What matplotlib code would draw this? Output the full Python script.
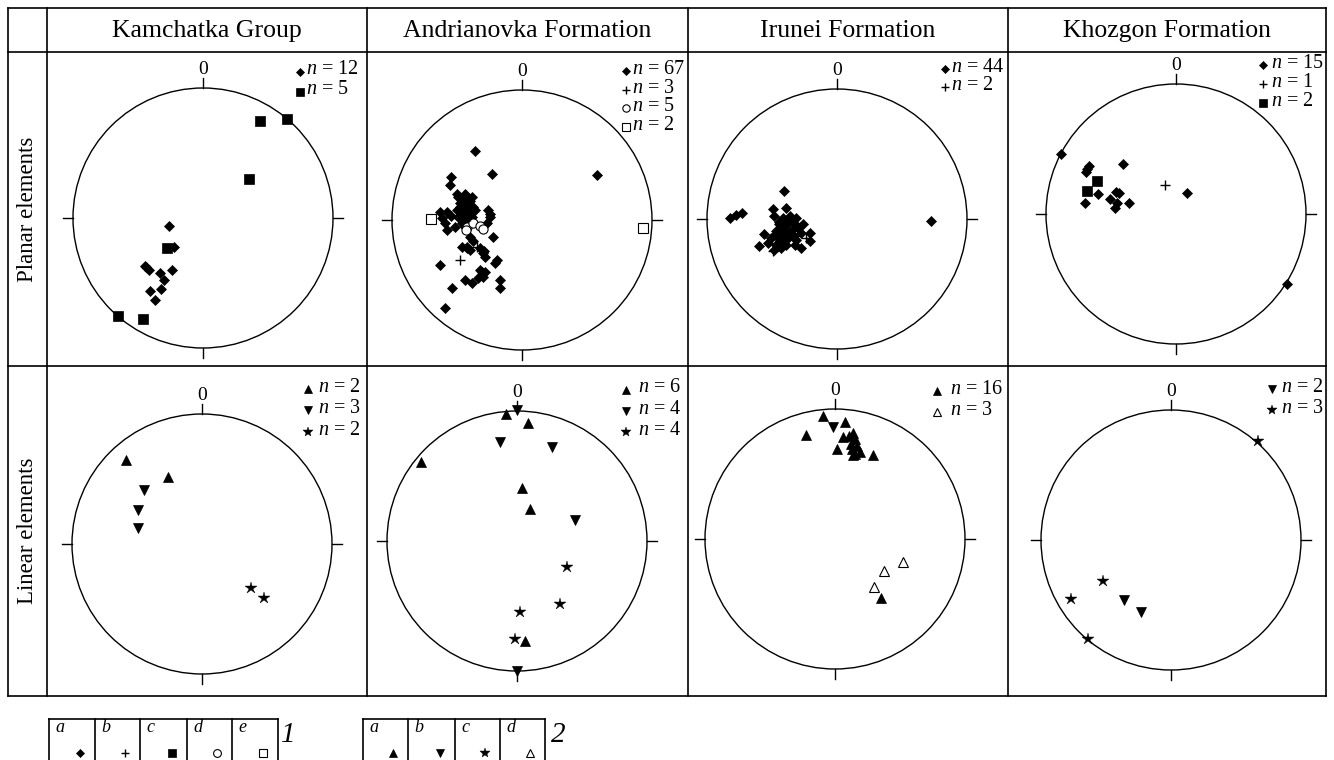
import matplotlib
matplotlib.use('Agg')
import matplotlib.pyplot as plt
from matplotlib.patches import Circle

plt.rcParams['font.family'] = ['Liberation Serif', 'DejaVu Serif']
plt.rcParams['mathtext.fontset'] = 'custom'
plt.rcParams['mathtext.rm'] = 'Liberation Serif'
plt.rcParams['mathtext.it'] = 'Liberation Serif:italic'

W, H = 1334, 760

columns = ["Kamchatka Group", "Andrianovka Formation", "Irunei Formation", "Khozgon Formation"]
rows = ["Planar elements", "Linear elements"]

# ---------------- data: projected positions (unit circle) ----------------
kam_pl_diamond = [(-0.262, -0.063), (-0.224, -0.222), (-0.450, -0.369), (-0.416, -0.397),
                  (-0.329, -0.423), (-0.237, -0.397), (-0.303, -0.479), (-0.324, -0.544),
                  (-0.404, -0.562), (-0.373, -0.629), (-0.435, -0.380)]
kam_pl_square = [(0.437, 0.749), (0.643, 0.765), (0.355, 0.300), (-0.650, -0.757),
                 (-0.463, -0.778), (-0.280, -0.228)]

and_pl_diamond = [(-0.362, 0.531), (-0.233, 0.351), (0.579, 0.344), (-0.549, 0.333), (-0.554, 0.269),
                  (-0.490, 0.179), (-0.438, 0.200), (-0.387, 0.179), (-0.477, 0.128), (-0.413, 0.128),
                  (-0.374, 0.103), (-0.503, 0.077), (-0.451, 0.077), (-0.400, 0.064), (-0.490, 0.026),
                  (-0.438, 0.026), (-0.387, 0.026), (-0.464, -0.026), (-0.413, 0.000), (-0.259, 0.077),
                  (-0.246, 0.026), (-0.272, -0.026), (-0.631, 0.064), (-0.579, 0.064), (-0.618, 0.013),
                  (-0.592, -0.026), (-0.574, -0.077), (-0.515, -0.051), (-0.400, -0.128), (-0.221, -0.128),
                  (-0.464, -0.205), (-0.426, -0.218), (-0.400, -0.231), (-0.323, -0.218), (-0.297, -0.256),
                  (-0.285, -0.282), (-0.195, -0.308), (-0.208, -0.333), (-0.631, -0.346), (-0.323, -0.385),
                  (-0.285, -0.397), (-0.297, -0.436), (-0.336, -0.449), (-0.438, -0.462), (-0.387, -0.487),
                  (-0.169, -0.462), (-0.169, -0.526), (-0.541, -0.526), (-0.592, -0.674), (-0.460, 0.150),
                  (-0.430, 0.100), (-0.450, 0.050), (-0.420, 0.050), (-0.480, 0.100), (-0.400, 0.150),
                  (-0.390, 0.000), (-0.440, -0.050), (-0.250, 0.050), (-0.500, 0.200), (-0.380, -0.160),
                  (-0.360, 0.080), (-0.470, 0.050), (-0.290, -0.240), (-0.310, -0.400), (-0.420, -0.210),
                  (-0.550, 0.030), (-0.430, 0.170)]
and_pl_plus = [(-0.477, -0.308), (-0.344, -0.205), (-0.400, 0.030)]
and_pl_circle = [(-0.421, -0.051), (-0.379, -0.026), (-0.323, -0.046), (-0.297, -0.072), (-0.431, -0.077)]
and_pl_opensq = [(-0.703, 0.008), (0.928, -0.059)]

iru_pl_diamond = [(-0.404, 0.218), (-0.824, 0.010), (-0.780, 0.028), (-0.728, 0.044), (-0.495, 0.075),
                  (-0.391, 0.088), (0.725, -0.018), (-0.482, 0.023), (-0.417, 0.010), (-0.365, 0.023),
                  (-0.313, 0.010), (-0.443, -0.041), (-0.378, -0.028), (-0.326, -0.041), (-0.262, -0.041),
                  (-0.469, -0.093), (-0.404, -0.080), (-0.339, -0.080), (-0.275, -0.106), (-0.210, -0.106),
                  (-0.560, -0.119), (-0.508, -0.145), (-0.443, -0.145), (-0.378, -0.145), (-0.313, -0.158),
                  (-0.534, -0.184), (-0.469, -0.197), (-0.391, -0.197), (-0.326, -0.197), (-0.598, -0.210),
                  (-0.275, -0.223), (-0.210, -0.171), (-0.482, -0.236), (-0.430, -0.223), (-0.450, -0.020),
                  (-0.400, -0.050), (-0.360, -0.110), (-0.420, -0.120), (-0.300, -0.070), (-0.480, -0.120),
                  (-0.350, 0.000), (-0.440, -0.170), (-0.330, -0.130), (-0.400, -0.160)]
iru_pl_plus = [(-0.495, -0.249), (-0.238, -0.148)]

khz_pl_diamond = [(-0.887, 0.460), (-0.670, 0.368), (-0.696, 0.325), (-0.683, 0.343), (-0.407, 0.384),
                  (-0.601, 0.153), (-0.703, 0.087), (-0.465, 0.171), (-0.440, 0.159), (-0.504, 0.113),
                  (-0.453, 0.082), (-0.473, 0.043), (-0.361, 0.087), (0.084, 0.164), (0.857, -0.537)]
khz_pl_plus = [(-0.082, 0.223)]
khz_pl_square = [(-0.611, 0.256), (-0.683, 0.176)]

kam_ln_up = [(-0.582, 0.649), (-0.260, 0.513)]
kam_ln_down = [(-0.448, 0.412), (-0.495, 0.263), (-0.495, 0.121)]
kam_ln_star = [(0.376, -0.340), (0.474, -0.412)]

and_ln_up = [(-0.087, 0.980), (0.082, 0.911), (-0.740, 0.605), (0.038, 0.408), (0.097, 0.247), (0.064, -0.768)]
and_ln_down = [(0.0, 1.005), (-0.133, 0.763), (0.270, 0.724), (0.449, 0.158), (0.0, -1.0)]
and_ln_star = [(0.388, -0.199), (0.332, -0.485), (0.020, -0.543), (-0.015, -0.755)]

iru_ln_up = [(-0.096, 0.948), (0.075, 0.902), (-0.225, 0.798), (0.137, 0.819), (0.060, 0.788),
             (0.150, 0.767), (0.122, 0.728), (0.018, 0.694), (0.130, 0.689), (0.189, 0.668),
             (0.137, 0.650), (0.293, 0.650), (0.168, 0.715), (0.104, 0.793), (0.155, 0.655),
             (0.350, -0.451)]
iru_ln_down = [(-0.013, 0.863)]
iru_ln_open = [(0.526, -0.179), (0.376, -0.249), (0.298, -0.368)]

khz_ln_down = [(-0.365, -0.459), (-0.234, -0.551)]
khz_ln_star = [(0.670, 0.764), (-0.523, -0.315), (-0.766, -0.454), (-0.640, -0.759)]

# legend counts per panel
kam_pl_counts = [("a1", 12), ("c1", 5)]
and_pl_counts = [("a1", 67), ("b1", 3), ("d1", 5), ("e1", 2)]
iru_pl_counts = [("a1", 44), ("b1", 2)]
khz_pl_counts = [("a1", 15), ("b1", 1), ("c1", 2)]
kam_ln_counts = [("a2", 2), ("b2", 3), ("c2", 2)]
and_ln_counts = [("a2", 6), ("b2", 4), ("c2", 4)]
iru_ln_counts = [("a2", 16), ("d2", 3)]
khz_ln_counts = [("b2", 2), ("c2", 3)]

legend1_keys = ["a", "b", "c", "d", "e"]
legend2_keys = ["a", "b", "c", "d"]

# ---------------- styles ----------------
STY = {
    "a1": dict(marker='D', ms=4.9, mfc='black', mec='black', mew=0.5),
    "b1": dict(marker='+', ms=7.0, mfc='black', mec='black', mew=1.0),
    "c1": dict(marker='s', ms=7.0, mfc='black', mec='black', mew=0.5),
    "d1": dict(marker='o', ms=6.6, mfc='white', mec='black', mew=0.8),
    "e1": dict(marker='s', ms=6.6, mfc='white', mec='black', mew=0.8),
    "a2": dict(marker='^', ms=7.0, mfc='black', mec='black', mew=0.5),
    "b2": dict(marker='v', ms=7.0, mfc='black', mec='black', mew=0.5),
    "c2": dict(marker='*', ms=9.2, mfc='black', mec='black', mew=0.3),
    "d2": dict(marker='^', ms=6.6, mfc='white', mec='black', mew=0.8),
}

panels = [
    # (cx, cy, series, counts, legend marker x, text x, first y, dy)
    (203, 218, [("a1", kam_pl_diamond), ("c1", kam_pl_square)], kam_pl_counts, 300, 306, 70, 20),
    (522, 220, [("a1", and_pl_diamond), ("d1", and_pl_circle), ("b1", and_pl_plus), ("e1", and_pl_opensq)],
     and_pl_counts, 626, 632, 69.5, 18.6),
    (837, 219, [("a1", iru_pl_diamond), ("b1", iru_pl_plus)], iru_pl_counts, 945, 951, 67, 18.5),
    (1176, 214, [("a1", khz_pl_diamond), ("b1", khz_pl_plus), ("c1", khz_pl_square)],
     khz_pl_counts, 1263, 1271, 63, 19.3),
    (202, 544, [("a2", kam_ln_up), ("b2", kam_ln_down), ("c2", kam_ln_star)], kam_ln_counts, 308, 318, 387, 21.7),
    (517, 541, [("a2", and_ln_up), ("b2", and_ln_down), ("c2", and_ln_star)], and_ln_counts, 626, 638, 388, 21.3),
    (835, 539, [("a2", iru_ln_up), ("b2", iru_ln_down), ("d2", iru_ln_open)], iru_ln_counts, 937, 950, 389, 21.4),
    (1171, 540, [("b2", khz_ln_down), ("c2", khz_ln_star)], khz_ln_counts, 1272, 1281, 387, 21.7),
]

R = 130.0
S = 1.32

fig = plt.figure(figsize=(W / 100, H / 100), dpi=100)
bg = fig.add_axes([0, 0, 1, 1])
bg.set_xlim(0, W)
bg.set_ylim(H, 0)
bg.axis('off')

LW_T = 1.2
# table frame
xs = [7.5, 47, 367, 688, 1008, 1326]
ys = [8, 52, 366, 696]
for x in xs:
    bg.plot([x, x], [ys[0], ys[-1]], color='black', lw=LW_T, solid_capstyle='projecting')
for y in ys:
    bg.plot([xs[0], xs[-1]], [y, y], color='black', lw=LW_T, solid_capstyle='projecting')

# headers
for i, name in enumerate(columns):
    bg.text((xs[i + 1] + xs[i + 2]) / 2, 31, name, ha='center', va='center', fontsize=18.5)
for j, name in enumerate(rows):
    bg.text(27.5, (ys[j + 1] + ys[j + 2]) / 2, name, ha='center', va='center', fontsize=16.5, rotation=90)

for (cx, cy, series, counts, lmx, ltx, ly0, ldy) in panels:
    ax = fig.add_axes([(cx - S * R) / W, 1 - (cy + S * R) / H, 2 * S * R / W, 2 * S * R / H])
    ax.set_xlim(-S, S)
    ax.set_ylim(-S, S)
    ax.axis('off')
    ax.add_patch(Circle((0, 0), 1.0, fill=False, lw=1.0, ec='black'))
    t = 0.075
    for (x0, y0, x1, y1) in [(0, 1, 0, 1 + t), (0, -1, 0, -1 - t), (1, 0, 1 + t, 0), (-1, 0, -1 - t, 0)]:
        ax.plot([x0, x1], [y0, y1], color='black', lw=1.0)
    ax.text(0, 1.145, "0", ha='center', va='center', fontsize=14)
    for key, pts in series:
        px = [p[0] for p in pts]
        py = [p[1] for p in pts]
        ax.plot(px, py, ls='none', clip_on=False, **STY[key])
    # legend
    for k, (key, n) in enumerate(counts):
        y = ly0 + k * ldy
        st = dict(STY[key])
        st['ms'] = st['ms'] * 0.8
        bg.plot([lmx], [y + 1.5], ls='none', **st)
        bg.text(ltx, y, r"$n$ = %d" % n, ha='left', va='center', fontsize=14.5)

# bottom legend boxes
g1 = [49, 95, 140, 187, 232, 278]
g2 = [363, 408, 455, 500, 545]
for edges, keys, suffix, label, lx in [(g1, legend1_keys, "1", "1", 288), (g2, legend2_keys, "2", "2", 558)]:
    bg.plot([edges[0], edges[-1]], [719, 719], color='black', lw=LW_T)
    for e in edges:
        bg.plot([e, e], [719, 765], color='black', lw=LW_T, clip_on=False)
    for i, k in enumerate(keys):
        bg.text(edges[i] + 6, 727, k, ha='left', va='center', fontsize=13, style='italic')
        st = dict(STY[k + suffix])
        st['ms'] = st['ms'] * 0.85
        bg.plot([edges[i + 1] - 15], [753], ls='none', **st)
    bg.text(lx, 735, label, ha='center', va='center', fontsize=21, style='italic')

fig.savefig('out.png', dpi=100)
